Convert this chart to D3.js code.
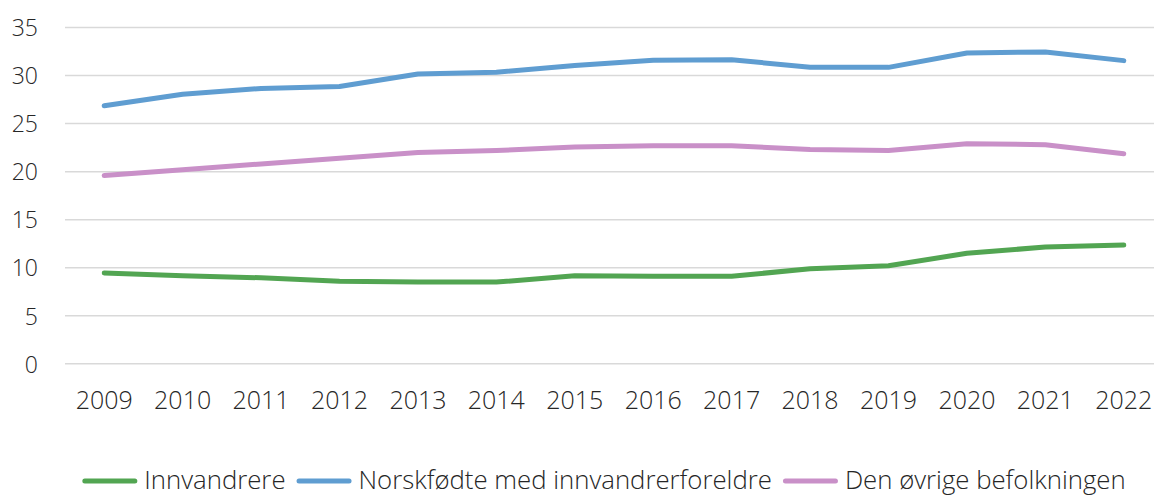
<!DOCTYPE html>
<html>
<head>
<meta charset="utf-8">
<script src="https://cdn.jsdelivr.net/npm/d3@7"></script>
<style>
  html, body { margin: 0; padding: 0; background: #fff; }
  svg { display: block; }
  text { font-family: "Open Sans", "Noto Sans", sans-serif; font-weight: 300; font-stretch: 100%; fill: #262626; }
</style>
</head>
<body>
<svg id="chart" width="1154" height="497"></svg>
<script>
const years = ["2009","2010","2011","2012","2013","2014","2015","2016","2017","2018","2019","2020","2021","2022"];
const innvandrere = [9.4, 9.1, 8.9, 8.55, 8.45, 8.45, 9.1, 9.05, 9.05, 9.85, 10.15, 11.45, 12.1, 12.3];
const norskfodte = [26.8, 28.0, 28.6, 28.8, 30.1, 30.3, 31.0, 31.55, 31.6, 30.8, 30.8, 32.3, 32.4, 31.5];
const ovrige = [19.55, 20.15, 20.75, 21.35, 21.95, 22.15, 22.5, 22.65, 22.65, 22.25, 22.15, 22.85, 22.75, 21.8];
const seriesNames = ["Innvandrere", "Norskfødte med innvandrerforeldre", "Den øvrige befolkningen"];
const seriesColors = ["#52A552", "#5F9DD1", "#C990C8"];
const yTicks = [0, 5, 10, 15, 20, 25, 30, 35];

(function () {
const series = [innvandrere, norskfodte, ovrige].map((v, i) => ({ name: seriesNames[i], color: seriesColors[i], values: v }));

const svg = d3.select("#chart");
const pLeft = 65, pRight = 1163, pTop = 27, pBottom = 363.3;

const x = d3.scaleBand().domain(years).range([pLeft, pRight]);
const y = d3.scaleLinear().domain([0, 35]).range([pBottom, pTop]);

// gridlines + y labels
const yAxis = svg.append("g").attr("transform", `translate(${pLeft},0)`)
  .call(d3.axisLeft(y).tickValues(yTicks).tickSize(-(pRight - pLeft)).tickPadding(27));
yAxis.select(".domain").remove();
yAxis.selectAll(".tick line").attr("stroke", "#D9D9D9").attr("stroke-width", 1.5);
yAxis.selectAll(".tick text").attr("font-size", 23).attr("dy", "0.38em").style("fill", "#262626");

// x labels
const xAxis = svg.append("g").attr("transform", `translate(0,${pBottom})`)
  .call(d3.axisBottom(x).tickSize(0));
xAxis.select(".domain").remove();
xAxis.selectAll(".tick text").attr("font-size", 25).attr("dy", null).attr("y", 409 - pBottom).style("fill", "#262626");

// lines
const line = d3.line()
  .x((d, i) => x(years[i]) + x.bandwidth() / 2)
  .y(d => y(d));

svg.append("g").selectAll("path").data(series).join("path")
  .attr("d", d => line(d.values))
  .attr("fill", "none")
  .attr("stroke", d => d.color)
  .attr("stroke-width", 5)
  .attr("stroke-linejoin", "round")
  .attr("stroke-linecap", "round");

// legend
const legend = svg.append("g");
const lineLen = 55, gapAfterLine = 7, gapBetween = 11, legendY = 481, baseline = 489;
let cx = 0;
series.forEach(s => {
  const g = legend.append("g");
  g.append("line").attr("x1", cx + 2.5).attr("x2", cx + lineLen - 2.5).attr("y1", legendY).attr("y2", legendY)
    .attr("stroke", s.color).attr("stroke-width", 5).attr("stroke-linecap", "round");
  const t = g.append("text").attr("x", cx + lineLen + gapAfterLine).attr("y", baseline)
    .attr("font-size", 25.75).text(s.name).style("fill", "#262626");
  cx += lineLen + gapAfterLine + t.node().getComputedTextLength() + gapBetween;
});
const total = cx - gapBetween;
legend.attr("transform", `translate(${604 - total / 2},0)`);
})();
</script>
</body>
</html>
